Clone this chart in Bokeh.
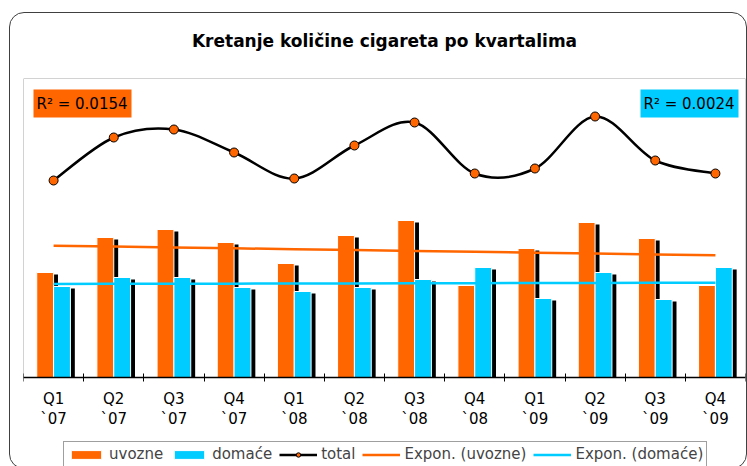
import numpy as np
from bokeh.plotting import figure
from bokeh.models import (Range1d, FixedTicker, Legend, LegendItem, Label, LinearAxis,
                          BoxAnnotation, ColumnDataSource, InlineStyleSheet)
from bokeh.embed import file_html
from bokeh.resources import INLINE

# ---------------- data ----------------
quarters = ["Q1", "Q2", "Q3", "Q4", "Q1", "Q2", "Q3", "Q4", "Q1", "Q2", "Q3", "Q4"]
years = ["`07", "`07", "`07", "`07", "`08", "`08", "`08", "`08", "`09", "`09", "`09", "`09"]
uvozne = [105, 140, 148, 135, 114, 142, 157, 92, 129, 155, 139, 92]
domace = [91, 100, 100, 90, 86, 90, 98, 110, 79, 105, 78, 110]
total = [197, 240, 248, 225, 199, 232, 255, 204, 209, 261, 217, 204]
r2_uvozne = "R² = 0.0154"
r2_domace = "R² = 0.0024"
title_text = "Kretanje količine cigareta po kvartalima"

ORANGE = "#FF6600"
CYAN = "#00CCFF"
FONT = "DejaVu Sans"

# frame spans the plot area plus the space under it (axis labels and legend)
FRAME_W = 722
FRAME_L, FRAME_R, FRAME_T = 23, 2, 77   # canvas px
AXIS_Y = 376                            # canvas y of the category axis
YMAX = 299
YMIN = -90                              # room below the axis, down to y = 466
FRAME_H = YMAX - YMIN

p = figure(frame_width=FRAME_W, frame_height=FRAME_H, output_backend="svg",
           toolbar_location=None,
           x_range=Range1d(-0.5, 11.5), y_range=Range1d(YMIN, YMAX),
           min_border_left=FRAME_L, min_border_right=FRAME_R,
           min_border_top=FRAME_T, min_border_bottom=0,
           y_axis_location=None)
p.grid.visible = False
p.outline_line_color = None
p.background_fill_color = "white"
p.border_fill_color = "white"

# outer rounded chart border (drawn with CSS over the canvas)
p.stylesheets = [InlineStyleSheet(css="""
:host { position: relative; }
:host::after {
  content: ""; position: absolute; left: 8.5px; top: 12px;
  width: 738px; height: 457px; box-sizing: border-box;
  border: 1.5px solid #404040; border-radius: 15px;
  pointer-events: none; z-index: 10;
}
""")]

# grey plot-area border
p.add_layout(BoxAnnotation(left=-0.5, right=11.5, bottom=0, top=YMAX,
                           fill_color=None, line_color="#a6a6a6", line_alpha=1,
                           line_width=1, level="underlay"))

# title
p.title.text = title_text
p.title.align = "center"
p.title.text_font = FONT
p.title.text_font_size = "17px"
p.title.text_font_style = "bold"
p.title.text_color = "black"
p.title.standoff = 56

# x axis drawn at value 0: quarter labels at centres, ticks at category boundaries
n = len(quarters)
x = np.arange(n)
ax = p.xaxis[0]
ax.fixed_location = 0
ax.ticker = FixedTicker(ticks=list(range(n)), minor_ticks=[i - 0.5 for i in range(n + 1)])
ax.major_label_overrides = {i: quarters[i] for i in range(n)}
ax.major_tick_line_color = None
ax.major_tick_in = 0
ax.major_tick_out = 4
ax.minor_tick_line_color = "black"
ax.minor_tick_in = 4
ax.minor_tick_out = 4
ax.axis_line_color = "black"
ax.axis_line_width = 1.5
ax.major_label_text_font = FONT
ax.major_label_text_font_size = "15px"
ax.major_label_text_color = "black"
ax.major_label_standoff = 8

# second row of labels: years
ax2 = LinearAxis(ticker=FixedTicker(ticks=list(range(n))), fixed_location=0,
                 major_label_overrides={i: years[i] for i in range(n)},
                 axis_line_color=None, major_tick_line_color=None,
                 minor_tick_line_color=None, major_tick_in=0, major_tick_out=0,
                 major_label_text_font=FONT, major_label_text_font_size="15px",
                 major_label_text_color="black", major_label_standoff=32)
p.add_layout(ax2, "below")

# ---------------- bars with shadows ----------------
unit_px = FRAME_W / 12.0
bw = 0.28
off = 0.14
sdx = 4.4 / unit_px
sdy = 2
src = ColumnDataSource(dict(
    xu=x - off, xd=x + off, xus=x - off + sdx, xds=x + off + sdx,
    u=uvozne, d=domace,
    us=[v - sdy for v in uvozne], ds=[v - sdy for v in domace]))

p.vbar(x="xus", top="us", bottom=0, width=bw, source=src, fill_color="black", line_color=None)
r_u = p.vbar(x="xu", top="u", bottom=0, width=bw, source=src, fill_color=ORANGE,
             line_color="white", line_width=1)
p.vbar(x="xds", top="ds", bottom=0, width=bw, source=src, fill_color="black", line_color=None)
r_d = p.vbar(x="xd", top="d", bottom=0, width=bw, source=src, fill_color=CYAN,
             line_color="white", line_width=1)

# ---------------- exponential trend lines (fitted from the bars) ----------------
xs = np.arange(1, n + 1)
bu, au = np.polyfit(xs, np.log(uvozne), 1)
bd, ad = np.polyfit(xs, np.log(domace), 1)
trend_u = np.exp(au + bu * xs)
trend_d = np.exp(ad + bd * xs)
r_tu = p.line(x, trend_u, line_color=ORANGE, line_width=2.5)
r_td = p.line(x, trend_d, line_color=CYAN, line_width=2.5)

# ---------------- smoothed total line (Catmull-Rom -> Bezier) ----------------
X = x.astype(float)
P = np.array(total, dtype=float)
Xp = np.concatenate([[X[0]], X, [X[-1]]])
Pp = np.concatenate([[P[0]], P, [P[-1]]])
seg = dict(x0=[], y0=[], x1=[], y1=[], cx0=[], cy0=[], cx1=[], cy1=[])
for i in range(n - 1):
    seg["x0"].append(X[i]); seg["y0"].append(P[i])
    seg["x1"].append(X[i + 1]); seg["y1"].append(P[i + 1])
    seg["cx0"].append(X[i] + (Xp[i + 2] - Xp[i]) / 6.0)
    seg["cy0"].append(P[i] + (Pp[i + 2] - Pp[i]) / 6.0)
    seg["cx1"].append(X[i + 1] - (Xp[i + 3] - Xp[i + 1]) / 6.0)
    seg["cy1"].append(P[i + 1] - (Pp[i + 3] - Pp[i + 1]) / 6.0)
r_curve = p.bezier(x0="x0", y0="y0", x1="x1", y1="y1", cx0="cx0", cy0="cy0",
                   cx1="cx1", cy1="cy1", source=ColumnDataSource(seg),
                   line_color="black", line_width=2.5)
r_pts = p.scatter(x, total, size=9, fill_color=ORANGE, line_color="black", line_width=1)

# ---------------- R² boxes ----------------
def px2x(px):
    return -0.5 + (px - FRAME_L) / unit_px

def py2y(py):
    return AXIS_Y - py

p.add_layout(BoxAnnotation(left=px2x(33), right=px2x(131), top=py2y(88), bottom=py2y(116),
                           fill_color=ORANGE, fill_alpha=1, line_color=None))
p.add_layout(BoxAnnotation(left=px2x(640), right=px2x(738), top=py2y(88), bottom=py2y(116),
                           fill_color=CYAN, fill_alpha=1, line_color=None))
p.add_layout(Label(x=px2x(36), y=py2y(102), text=r2_uvozne, text_font=FONT,
                   text_font_size="15px", text_baseline="middle", text_color="black"))
p.add_layout(Label(x=px2x(643), y=py2y(102), text=r2_domace, text_font=FONT,
                   text_font_size="15px", text_baseline="middle", text_color="black"))

# ---------------- legend (inside the extended frame, bottom-left corner given) ----------------
legend = Legend(items=[
    LegendItem(label="uvozne", renderers=[r_u]),
    LegendItem(label="domaće", renderers=[r_d]),
    LegendItem(label="total", renderers=[r_curve, r_pts]),
    LegendItem(label="Expon. (uvozne)", renderers=[r_tu]),
    LegendItem(label="Expon. (domaće)", renderers=[r_td]),
], orientation="horizontal", location=(40, 0),
    border_line_color="#404040", border_line_width=1, background_fill_alpha=1,
    padding=3, spacing=7, margin=0, label_standoff=4,
    glyph_width=38, glyph_height=11, label_height=17,
    label_text_font=FONT, label_text_font_size="15px")
p.add_layout(legend)

open("out.html", "w").write(file_html(p, INLINE))
